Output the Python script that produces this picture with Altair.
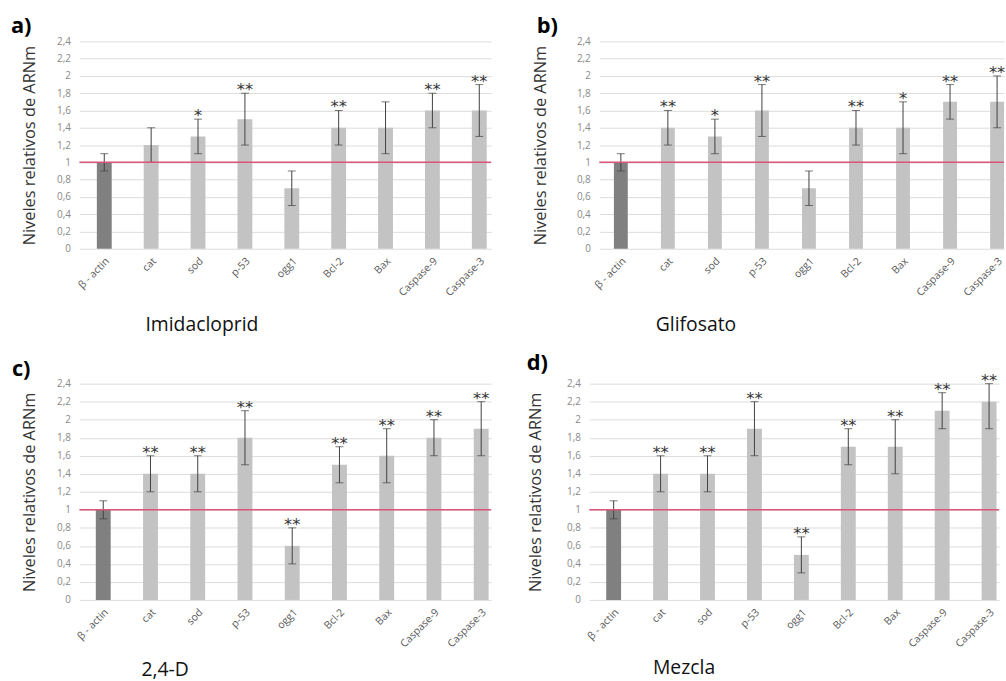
import altair as alt
import pandas as pd

# ---------------- data ----------------
genes = ["β - actin", "cat", "sod", "p-53", "ogg1", "Bcl-2", "Bax", "Caspase-9", "Caspase-3"]
y_ticks = [0, 0.2, 0.4, 0.6, 0.8, 1.0, 1.2, 1.4, 1.6, 1.8, 2.0, 2.2, 2.4]

imid_mean = [1.0, 1.2, 1.3, 1.5, 0.7, 1.4, 1.4, 1.6, 1.6]
imid_lo = [0.9, 1.0, 1.1, 1.2, 0.5, 1.2, 1.1, 1.4, 1.3]
imid_hi = [1.1, 1.4, 1.5, 1.8, 0.9, 1.6, 1.7, 1.8, 1.9]
imid_sig = ["", "", "*", "**", "", "**", "", "**", "**"]

gli_mean = [1.0, 1.4, 1.3, 1.6, 0.7, 1.4, 1.4, 1.7, 1.7]
gli_lo = [0.9, 1.2, 1.1, 1.3, 0.5, 1.2, 1.1, 1.5, 1.4]
gli_hi = [1.1, 1.6, 1.5, 1.9, 0.9, 1.6, 1.7, 1.9, 2.0]
gli_sig = ["", "**", "*", "**", "", "**", "*", "**", "**"]

d24_mean = [1.0, 1.4, 1.4, 1.8, 0.6, 1.5, 1.6, 1.8, 1.9]
d24_lo = [0.9, 1.2, 1.2, 1.5, 0.4, 1.3, 1.3, 1.6, 1.6]
d24_hi = [1.1, 1.6, 1.6, 2.1, 0.8, 1.7, 1.9, 2.0, 2.2]
d24_sig = ["", "**", "**", "**", "**", "**", "**", "**", "**"]

mez_mean = [1.0, 1.4, 1.4, 1.9, 0.5, 1.7, 1.7, 2.1, 2.2]
mez_lo = [0.9, 1.2, 1.2, 1.6, 0.3, 1.5, 1.4, 1.9, 1.9]
mez_hi = [1.1, 1.6, 1.6, 2.2, 0.7, 1.9, 2.0, 2.3, 2.4]
mez_sig = ["", "**", "**", "**", "**", "**", "**", "**", "**"]

reference_level = [1.0]

FONT = "Open Sans"


def panel(letter, name, mean, lo, hi, sig, lay):
    df = pd.DataFrame({
        "gene": genes,
        "mean": mean,
        "lo": lo,
        "hi": hi,
        "sig": sig,
        "kind": ["control"] + ["gene"] * (len(genes) - 1),
    })
    xscale = alt.Scale(paddingInner=lay["pi"], paddingOuter=lay["po"], align=lay["align"])
    xaxis = alt.Axis(labelAngle=-45, labelFont=FONT, labelFontSize=10.5,
                     labelColor="#595959", labelPadding=7, labelOverlap=False,
                     ticks=False, domain=False,
                     title=name, titleFont=FONT, titleFontSize=19.5,
                     titleFontWeight="normal", titleColor="#111111",
                     titleX=lay["xtx"], titleY=lay["xty"], titleAlign="center",
                     titleBaseline="middle")
    x = alt.X("gene:N", sort=genes, scale=xscale, axis=xaxis)
    yscale = alt.Scale(domain=[0, 2.4], nice=False)
    yaxis = alt.Axis(values=y_ticks, labelExpr="replace(format(datum.value, '~g'), '.', ',')",
                     labelOverlap=False, tickCount=13,
                     grid=True, gridColor="#dcdcdc", domain=False, ticks=False,
                     labelFont=FONT, labelFontSize=10, labelColor="#8a8a8a", labelPadding=9,
                     title="Niveles relativos de ARNm", titleFont=FONT, titleFontSize=16.5,
                     titleFontWeight="normal", titleColor="#333333",
                     titleX=lay["ytx"], titleY=lay["h"] / 2)

    def Y(field):
        return alt.Y(field, scale=yscale, axis=yaxis)

    base = alt.Chart(df).encode(x=x)
    bars = base.mark_bar().encode(
        y=Y("mean:Q"),
        color=alt.Color("kind:N", scale=alt.Scale(domain=["control", "gene"],
                                                   range=["#808080", "#c3c3c3"]), legend=None),
    )
    err = base.mark_rule(color="#404040", strokeWidth=1).encode(y=Y("lo:Q"), y2="hi:Q")
    cap_hi = base.mark_tick(color="#404040", size=8, thickness=1).encode(y=Y("hi:Q"))
    cap_lo = base.mark_tick(color="#404040", size=8, thickness=1).encode(y=Y("lo:Q"))
    ref = alt.Chart(pd.DataFrame({"ref": reference_level})).mark_rule(
        color="#d9557a", strokeWidth=1.5).encode(y=Y("ref:Q"))
    stars = base.mark_text(font="DejaVu Sans", fontSize=16.5, baseline="alphabetic",
                           dy=2, color="#333333").encode(y=Y("hi:Q"), text="sig:N")
    return alt.layer(bars, err, cap_hi, cap_lo, ref, stars).properties(
        width=lay["w"], height=lay["h"],
        title=alt.TitleParams(letter, anchor="start", frame="group", dx=lay["tdx"],
                              font=FONT, fontSize=22, fontWeight="bold", color="#000000",
                              offset=lay["toff"]),
    )


lay_a = dict(w=415, h=209, pi=0.683, po=0.233, align=0.8, tdx=-69, toff=-2,
             ytx=-42, xtx=123, xty=76)
lay_b = dict(w=408, h=209, pi=0.705, po=0.156, align=1.0, tdx=-63, toff=-2,
             ytx=-51, xtx=97, xty=76)
lay_c = dict(w=415, h=218, pi=0.685, po=0.2, align=0.87, tdx=-68, toff=-2,
             ytx=-42, xtx=86, xty=70)
lay_d = dict(w=413, h=218, pi=0.683, po=0.207, align=0.87, tdx=-63, toff=-2,
             ytx=-46, xtx=95, xty=68)

pa = panel("a)", "Imidacloprid", imid_mean, imid_lo, imid_hi, imid_sig, lay_a)
pb = panel("b)", "Glifosato", gli_mean, gli_lo, gli_hi, gli_sig, lay_b)
pc = panel("c)", "2,4-D", d24_mean, d24_lo, d24_hi, d24_sig, lay_c)
pd_ = panel("d)", "Mezcla", mez_mean, mez_lo, mez_hi, mez_sig, lay_d)

row1 = alt.hconcat(pa, pb, spacing=40)
row2 = alt.hconcat(pc, pd_, spacing=35)

chart = alt.vconcat(row1, row2, spacing=18).properties(
    padding={"left": 11, "top": 13, "right": 0, "bottom": 0},
    background="white",
).configure_view(stroke=None).configure_concat(spacing=0)

chart.save("out.html", embed_options={"renderer": "svg", "actions": False})
